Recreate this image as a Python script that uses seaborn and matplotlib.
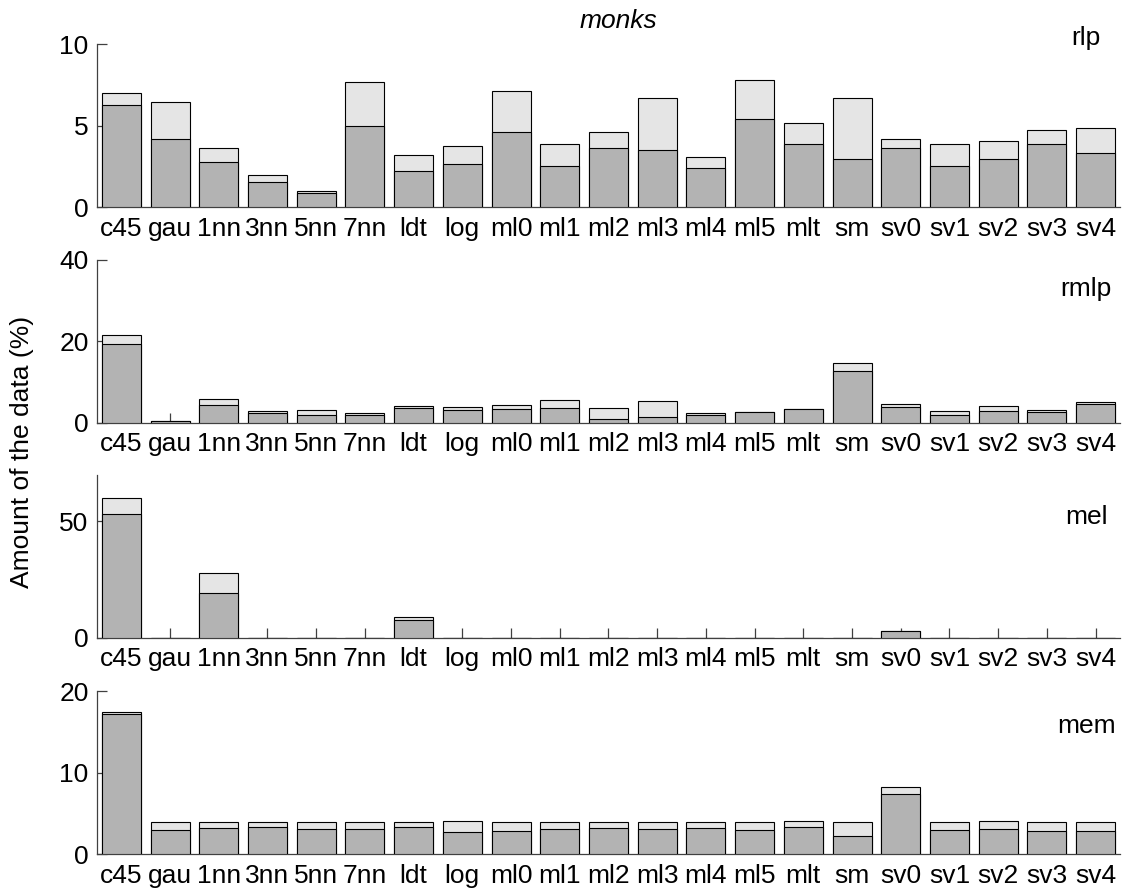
import matplotlib
matplotlib.use("Agg")
import matplotlib.pyplot as plt
import seaborn as sns

categories = ["c45", "gau", "1nn", "3nn", "5nn", "7nn", "ldt", "log", "ml0", "ml1",
              "ml2", "ml3", "ml4", "ml5", "mlt", "sm", "sv0", "sv1", "sv2", "sv3", "sv4"]

rlp_dark = [6.25, 4.19, 2.78, 1.53, 0.86, 4.99, 2.23, 2.64, 4.58, 2.49, 3.62,
            3.48, 2.37, 5.42, 3.88, 2.92, 3.62, 2.49, 2.92, 3.88, 3.33]
rlp_total = [6.98, 6.42, 3.62, 1.94, 0.98, 7.65, 3.21, 3.76, 7.10, 3.88, 4.58,
             6.69, 3.05, 7.79, 5.13, 6.69, 4.17, 3.88, 4.03, 4.74, 4.87]

rmlp_dark = [19.4, 0.3, 4.29, 2.47, 1.9, 1.98, 3.55, 3.06, 3.38, 3.63, 1.0,
             1.48, 1.98, 2.55, 3.3, 12.6, 3.8, 1.9, 2.8, 2.64, 4.6]
rmlp_total = [21.6, 0.5, 5.77, 2.89, 3.06, 2.47, 4.05, 3.8, 4.29, 5.53, 3.7,
              5.28, 2.32, 2.72, 3.46, 14.6, 4.7, 2.89, 4.2, 3.14, 5.1]

mel_dark = [53.3, 0, 19.3, 0, 0, 0, 7.76, 0, 0, 0, 0,
            0, 0, 0, 0, 0, 2.8, 0, 0, 0, 0]
mel_total = [60.2, 0, 27.7, 0, 0, 0, 9.05, 0, 0, 0, 0,
             0, 0, 0, 0, 0, 3.0, 0, 0, 0, 0]

mem_dark = [17.18, 2.99, 3.24, 3.28, 3.07, 3.07, 3.28, 2.7, 2.83, 3.07, 3.2,
            3.07, 3.2, 2.99, 3.36, 2.25, 7.34, 2.91, 3.12, 2.83, 2.79]
mem_total = [17.38, 3.94, 3.94, 3.94, 3.94, 3.94, 3.98, 4.02, 3.94, 3.94, 3.94,
             3.94, 3.94, 3.98, 4.02, 3.94, 8.28, 3.94, 4.02, 3.89, 3.98]

panel_names = ["rlp", "rmlp", "mel", "mem"]
panel_ylims = [10, 40, 70, 20]
panel_yticks = [[0, 5, 10], [0, 20, 40], [0, 50], [0, 10, 20]]
title = "monks"
ylabel = "Amount of the data (%)"

# layout (styling / positions)
label_y = [0.994, 0.778, 0.699, 0.742]
bottoms = [0.7679, 0.5261, 0.2851, 0.0426]
left, width, height = 0.0858, 0.9053, 0.1827
FS = 19
LIGHT = "#e5e5e5"
DARK = "#b3b3b3"
AXC = "#404040"

sns.set_theme(style="white")
plt.rcParams["font.family"] = ["Liberation Sans", "DejaVu Sans"]

fig = plt.figure(figsize=(11.3, 8.92), dpi=100)

series = [(rlp_dark, rlp_total), (rmlp_dark, rmlp_total),
          (mel_dark, mel_total), (mem_dark, mem_total)]

for i, (dark, total) in enumerate(series):
    ax = fig.add_axes([left, bottoms[i], width, height])
    ax.set_axisbelow(True)
    sns.barplot(x=categories, y=total, color=LIGHT, saturation=1,
                edgecolor="black", linewidth=0.8, width=0.8, ax=ax, zorder=2)
    sns.barplot(x=categories, y=dark, color=DARK, saturation=1,
                edgecolor="black", linewidth=0.8, width=0.8, ax=ax, zorder=3)
    ax.set_xlim(-0.5, len(categories) - 0.5)
    ax.set_ylim(0, panel_ylims[i])
    ax.set_yticks(panel_yticks[i])
    ax.set_xticks(range(len(categories)))
    ax.set_xticklabels(categories)
    for s in ["top", "right"]:
        ax.spines[s].set_visible(False)
    for s in ["left", "bottom"]:
        ax.spines[s].set_color(AXC)
        ax.spines[s].set_linewidth(0.9)
        ax.spines[s].set_zorder(1)
    ax.tick_params(axis="both", direction="in", length=7, width=0.9,
                   color=AXC, labelsize=FS, labelcolor="black")
    ax.tick_params(axis="x", pad=7, bottom=True)
    ax.tick_params(axis="y", pad=6, left=True)
    ax.set_xlabel("")
    ax.set_ylabel("")
    ax.grid(False)
    ax.text(0.967, label_y[i], panel_names[i], transform=ax.transAxes,
            ha="center", va="baseline", fontsize=FS, color="black")

fig.text(618 / 1130, 1 - 21 / 892, title, ha="center", va="center",
         fontsize=FS, style="italic", color="black")
fig.text(22 / 1130, 1 - 452 / 892, ylabel, ha="center", va="center",
         rotation=90, fontsize=FS, color="black")

fig.savefig("out.png", dpi=100, facecolor="white")
